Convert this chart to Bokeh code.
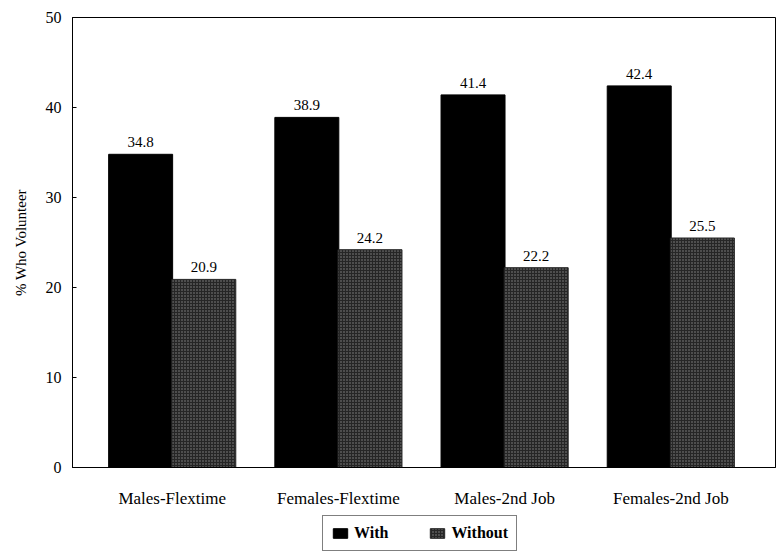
from bokeh.plotting import figure
from bokeh.layouts import column
from bokeh.models import ColumnDataSource, FixedTicker, LabelSet, Legend, LegendItem, Range1d
from bokeh.embed import file_html
from bokeh.resources import INLINE

categories = ["Males-Flextime", "Females-Flextime", "Males-2nd Job", "Females-2nd Job"]
with_vals = [34.8, 38.9, 41.4, 42.4]
without_vals = [20.9, 24.2, 22.2, 25.5]
y_ticks = [0, 10, 20, 30, 40, 50]
series_names = ["With", "Without"]

FONT = "Liberation Serif"
pos = list(range(len(categories)))
off = 0.19
bw = 0.385

WITH_STYLE = dict(fill_color="black", line_color="black")
WITHOUT_STYLE = dict(fill_color="#262626", line_color="#262626", hatch_pattern="dot",
                     hatch_color="#8a8a8a", hatch_scale=3, hatch_weight=0.5)

src_w = ColumnDataSource(dict(x=[p_ - off for p_ in pos], top=with_vals,
                              lbl=[f"{v:.1f}" for v in with_vals]))
src_o = ColumnDataSource(dict(x=[p_ + off for p_ in pos], top=without_vals,
                              lbl=[f"{v:.1f}" for v in without_vals]))

p = figure(frame_width=703, frame_height=450, output_backend="svg", toolbar_location=None,
           x_range=Range1d(-0.6, 3.63), y_range=Range1d(0, 50),
           min_border_left=72, min_border_top=17, min_border_right=1, min_border_bottom=43)
p.background_fill_color = "white"
p.border_fill_color = "white"
p.outline_line_color = "black"
p.outline_line_width = 1
p.grid.visible = False

p.vbar(x="x", top="top", width=bw, source=src_w, **WITH_STYLE)
p.vbar(x="x", top="top", width=bw, source=src_o, **WITHOUT_STYLE)

for s in (src_w, src_o):
    p.add_layout(LabelSet(x="x", y="top", text="lbl", source=s, text_align="center",
                          text_baseline="bottom", y_offset=7, text_font=FONT,
                          text_font_size="15px", text_color="black"))

p.xaxis.ticker = FixedTicker(ticks=pos)
p.xaxis.major_label_overrides = {i: c for i, c in enumerate(categories)}
p.xaxis.major_tick_line_color = None
p.xaxis.minor_tick_line_color = None
p.xaxis.major_label_standoff = 15
p.xaxis.major_label_text_font = FONT
p.xaxis.major_label_text_font_size = "17px"
p.xaxis.major_label_text_color = "black"
p.xaxis.axis_line_color = "black"

p.yaxis.ticker = FixedTicker(ticks=y_ticks)
p.yaxis.minor_tick_line_color = None
p.yaxis.major_tick_in = 4
p.yaxis.major_tick_out = 0
p.yaxis.major_label_standoff = 11
p.yaxis.major_label_text_font = FONT
p.yaxis.major_label_text_font_size = "16px"
p.yaxis.major_label_text_color = "black"
p.yaxis.axis_label = "% Who Volunteer"
p.yaxis.axis_label_text_font = FONT
p.yaxis.axis_label_text_font_style = "normal"
p.yaxis.axis_label_text_font_size = "15px"
p.yaxis.axis_label_text_color = "black"
p.yaxis.axis_label_standoff = 14
p.yaxis.axis_line_color = "black"

# legend strip below the chart (bars here lie outside its y range; only the legend shows)
lf = figure(width=776, height=49, output_backend="svg", toolbar_location=None,
            x_range=Range1d(-0.6, 3.63), y_range=Range1d(100, 101),
            min_border_left=0, min_border_right=0, min_border_top=0, min_border_bottom=0)
lf.axis.visible = False
lf.grid.visible = False
lf.outline_line_color = None
lf.background_fill_color = "white"
lf.border_fill_color = "white"
lr1 = lf.vbar(x="x", top="top", width=bw, source=src_w, **WITH_STYLE)
lr2 = lf.vbar(x="x", top="top", width=bw, source=src_o, **WITHOUT_STYLE)

legend = Legend(items=[LegendItem(label=series_names[0], renderers=[lr1]),
                       LegendItem(label=series_names[1], renderers=[lr2])],
                orientation="horizontal", location=(250, 8),
                label_text_font=FONT, label_text_font_style="bold",
                label_text_font_size="16px", label_text_color="black",
                border_line_color="black", border_line_width=1.5,
                background_fill_color="white", background_fill_alpha=1.0,
                glyph_width=18, glyph_height=12, label_standoff=5,
                spacing=40, padding=8, margin=0)
lf.add_layout(legend, "center")

layout = column(p, lf, spacing=0)
open("out.html", "w").write(file_html(layout, INLINE))
